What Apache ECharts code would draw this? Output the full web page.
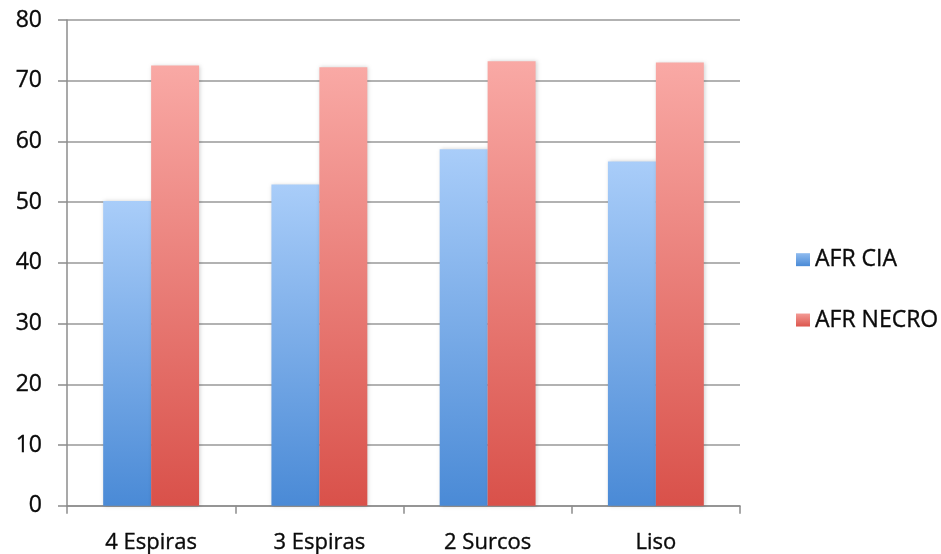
<!DOCTYPE html>
<html>
<head>
<meta charset="utf-8">
<script src="https://cdn.jsdelivr.net/npm/echarts@6/dist/echarts.min.js"></script>
<style>
  html, body { margin: 0; padding: 0; background: #ffffff; }
  #chart { width: 941px; height: 554px; }
</style>
</head>
<body>
<div id="chart"></div>
<script>
// Categories and series values
const categories = ['4 Espiras', '3 Espiras', '2 Surcos', 'Liso'];
const afrCia = [50.2, 52.9, 58.7, 56.7];
const afrNecro = [72.5, 72.2, 73.2, 73.0];
const seriesNames = ['AFR CIA', 'AFR NECRO'];
const yTicks = { min: 0, max: 80, interval: 10 };

const FONT = '"Open Sans", "Noto Sans", sans-serif';
// shared text look: near-black with a hairline outline for weight
const TEXT = { fontFamily: FONT, color: '#0a0a0a', textBorderColor: '#0a0a0a', textBorderWidth: 0.35 };

function vGrad(top, bottom) {
  return new echarts.graphic.LinearGradient(0, 0, 0, 1, [
    { offset: 0, color: top },
    { offset: 1, color: bottom }
  ]);
}

const chart = echarts.init(document.getElementById('chart'), null, { renderer: 'canvas' });

chart.setOption({
  backgroundColor: '#ffffff',
  animation: false,
  grid: { left: 67, right: 201, top: 20, bottom: 48, containLabel: false },
  legend: {
    orient: 'vertical',
    left: 791,
    top: 243,
    itemWidth: 14,
    itemHeight: 13,
    itemGap: 37,
    icon: 'rect',
    textStyle: Object.assign({}, TEXT, { fontSize: 23, padding: [0, 0, 0, 0] }),
    data: [
      { name: seriesNames[0], itemStyle: { color: vGrad('#8fbbef', '#4a8ad6') } },
      { name: seriesNames[1], itemStyle: { color: vGrad('#f39a95', '#dc564d') } }
    ]
  },
  xAxis: {
    type: 'category',
    data: categories,
    axisLine: { lineStyle: { color: '#8c8c8c', width: 1.5 } },
    axisTick: { show: true, length: 8, alignWithLabel: false, lineStyle: { color: '#8c8c8c', width: 1.5 } },
    axisLabel: Object.assign({}, TEXT, { fontSize: 22, margin: 26 })
  },
  yAxis: {
    type: 'value',
    min: yTicks.min,
    max: yTicks.max,
    interval: yTicks.interval,
    axisLine: { show: true, lineStyle: { color: '#8c8c8c', width: 1.5 } },
    axisTick: { show: true, length: 9, lineStyle: { color: '#8c8c8c', width: 1.5 } },
    axisLabel: Object.assign({}, TEXT, { fontSize: 23, margin: 25 }),
    splitLine: { show: true, lineStyle: { color: '#999999', width: 1.5 } }
  },
  series: [
    {
      name: seriesNames[0],
      type: 'bar',
      data: afrCia,
      barGap: '0%',
      barCategoryGap: '43%',
      itemStyle: {
        color: vGrad('#a9cdf9', '#4a8ad6'),
        shadowColor: 'rgba(0,0,0,0.18)',
        shadowBlur: 4,
        shadowOffsetX: 1,
        shadowOffsetY: 0
      }
    },
    {
      name: seriesNames[1],
      type: 'bar',
      data: afrNecro,
      barGap: '0%',
      barCategoryGap: '43%',
      itemStyle: {
        color: vGrad('#f9a9a5', '#d9514a'),
        shadowColor: 'rgba(0,0,0,0.18)',
        shadowBlur: 4,
        shadowOffsetX: 1,
        shadowOffsetY: 0
      }
    }
  ]
});
</script>
</body>
</html>
